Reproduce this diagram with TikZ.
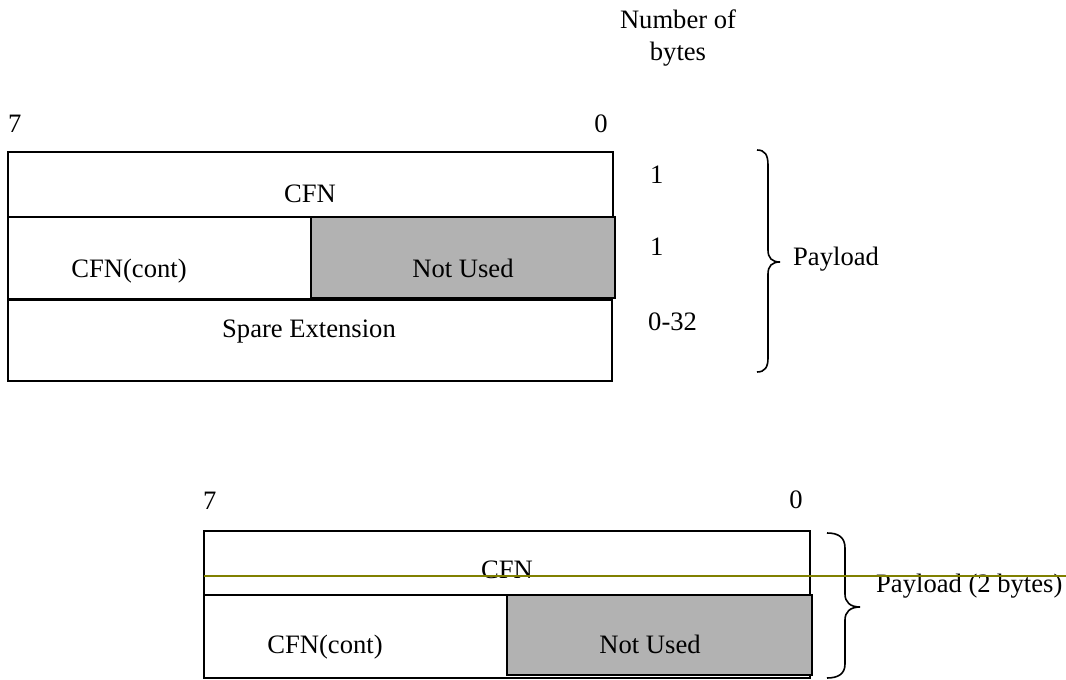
\documentclass[tikz,border=0pt]{standalone}
\usepackage{fontspec}
\setmainfont{Liberation Serif}
\begin{document}
\begin{tikzpicture}[x=1pt,y=-1pt,
  txt/.style={inner sep=0pt,font=\fontsize{26.6}{31}\selectfont},
  fieldbox/.style={draw=black,line width=1.5pt,fill=white},
  unused/.style={draw=black,line width=1.5pt,fill={rgb,255:red,178;green,178;blue,178}},
  bracepath/.style={draw=black,line width=1.6pt},
  marker/.style={draw={rgb,255:red,128;green,128;blue,0},line width=1.6pt}]
\useasboundingbox (0,0) rectangle (1066,680);
% ---------- top diagram ----------
\node[txt,align=center] (nb1) at (678,28) [anchor=base] {Number of};
\node[txt] (nb2) at (678,60) [anchor=base] {bytes};
\node[txt,anchor=base west] (t7) at (8,132) {7};
\node[txt,anchor=base] (t0) at (601,132) {0};
\draw[fieldbox] (8,152) rectangle (613,217);
\draw[fieldbox] (8,217) rectangle (611,299);
\draw[fieldbox] (8,300) rectangle (612,381);
\draw[unused] (311,217) rectangle (615,298);
\node[txt,anchor=base] (tcfn) at (310,202) {CFN};
\node[txt,anchor=base] (tcont) at (129,277) {CFN(cont)};
\node[txt,anchor=base] (tnu) at (463,277) {Not Used};
\node[txt,anchor=base] (tspare) at (309,337) {Spare Extension};
\node[txt,anchor=base west] (n1) at (650,183) {1};
\node[txt,anchor=base west] (n2) at (650,255) {1};
\node[txt,anchor=base west] (n3) at (648,330) {0-32};
\draw[bracepath] (757,150) .. controls (765,150) and (768,155) .. (768,165)
  -- (768,250) .. controls (768,258) and (772,262) .. (780,262)
  .. controls (772,262) and (768,266) .. (768,274)
  -- (768,358) .. controls (768,367) and (765,372) .. (757,372);
\node[txt,anchor=base west] (tpay) at (793,265) {Payload};
% ---------- bottom diagram ----------
\node[txt,anchor=base west] (b7) at (203,509) {7};
\node[txt,anchor=base] (b0) at (796,508) {0};
\draw[fieldbox] (204,531) rectangle (810,595);
\draw[fieldbox] (204,595) rectangle (810,678);
\draw[unused] (507,595) rectangle (812,675);
\node[txt,anchor=base] (bcfn) at (507,578) {CFN};
\node[txt,anchor=base] (bcont) at (325,653) {CFN(cont)};
\node[txt,anchor=base] (bnu) at (650,653) {Not Used};
\draw[bracepath] (827,533) .. controls (838,533) and (845,537) .. (845,548)
  -- (845,594) .. controls (845,602) and (850,607) .. (860,607)
  .. controls (850,607) and (845,612) .. (845,620)
  -- (845,664) .. controls (845,674) and (838,678) .. (827,678);
\node[txt,anchor=base west] (bpay) at (876,592) {Payload (2 bytes)};
\coordinate (ml) at (204,576);
\coordinate (mr) at (1066,576);
\draw[marker] (ml) -- (mr);
\end{tikzpicture}
\end{document}
